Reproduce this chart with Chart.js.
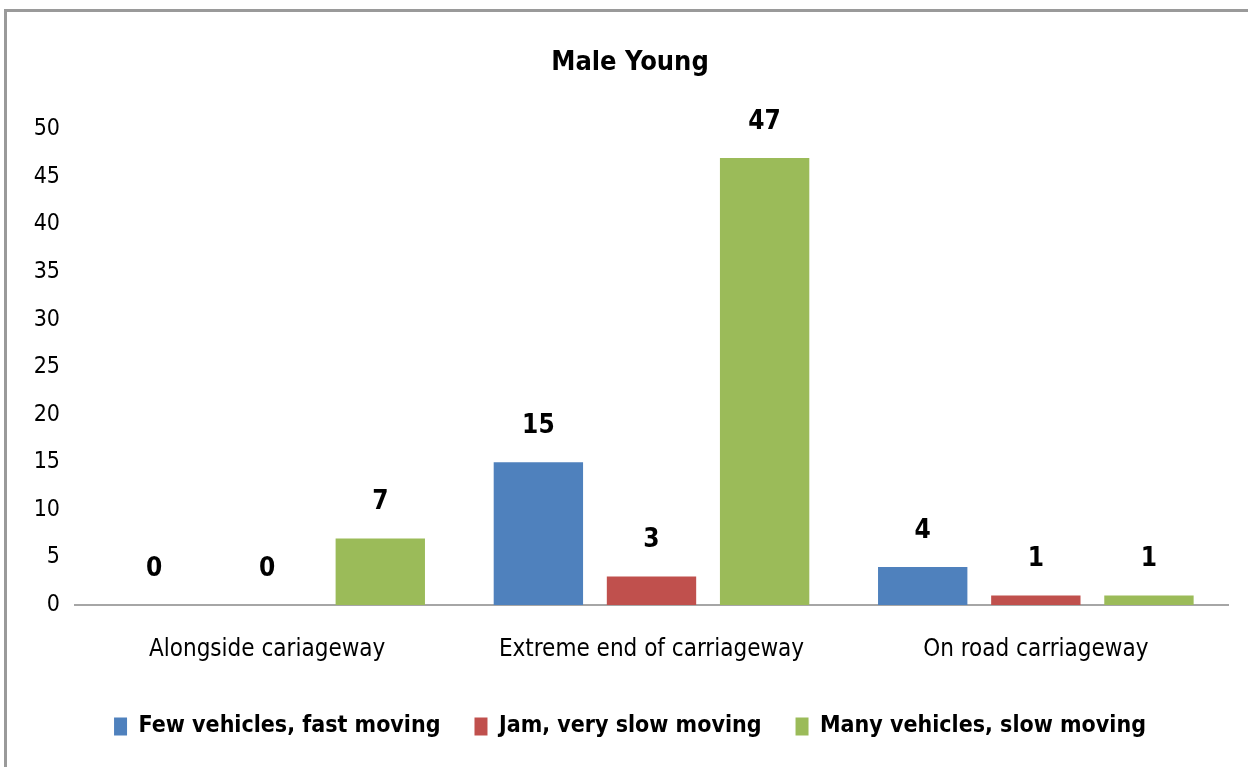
<!DOCTYPE html>
<html>
<head>
<meta charset="utf-8">
<script src="https://cdn.jsdelivr.net/npm/chart.js@4.4.0/dist/chart.umd.min.js"></script>
<style>
  html, body { margin: 0; padding: 0; background: #fff; }
  #frame {
    position: absolute; left: 4px; top: 9px; width: 1241px; height: 755px;
    border-top: 3px solid #9a9a9a; border-left: 3px solid #9a9a9a;
  }
  #frame canvas { display: block; }
</style>
</head>
<body>
<div id="frame"><canvas id="chart" width="1241" height="755"></canvas></div>
<script>
// chart data
const categories = ["Alongside cariageway", "Extreme end of carriageway", "On road carriageway"];
const fewVehicles = [0, 15, 4];
const jamSlow = [0, 3, 1];
const manySlow = [7, 47, 1];
const yTicks = [0, 5, 10, 15, 20, 25, 30, 35, 40, 45, 50];

const FONT = "'Liberation Sans Narrow', 'DejaVu Sans Condensed', 'Arial Narrow', sans-serif";

// draws the value above every bar
const valueLabels = {
    id: 'valueLabels',
    afterDatasetsDraw(chart) {
        const ctx = chart.ctx;
        ctx.save();
        ctx.font = "bold 26px " + FONT;
        ctx.fillStyle = '#000';
        ctx.textAlign = 'center';
        ctx.textBaseline = 'middle';
        chart.data.datasets.forEach((ds, i) => {
            chart.getDatasetMeta(i).data.forEach((bar, j) => {
                ctx.fillText(String(ds.data[j]), bar.x, bar.y - 36);
            });
        });
        ctx.restore();
    }
};

new Chart(document.getElementById('chart'), {
    type: 'bar',
    data: {
        labels: categories,
        datasets: [
            { label: 'Few vehicles, fast moving', data: fewVehicles, backgroundColor: '#4F81BD' },
            { label: 'Jam, very slow moving', data: jamSlow, backgroundColor: '#C0504D' },
            { label: 'Many vehicles, slow moving', data: manySlow, backgroundColor: '#9BBB59' }
        ]
    },
    options: {
        responsive: false,
        animation: false,
        categoryPercentage: 0.883,
        barPercentage: 0.79,
        layout: { padding: { left: 25, right: 20, top: 0, bottom: 19 } },
        scales: {
            x: {
                grid: { display: false, drawTicks: false },
                border: { display: true, color: '#a6a6a6', width: 2 },
                ticks: { font: { family: FONT, size: 24 }, color: '#000', padding: 30, maxRotation: 0 },
                afterFit(scale) { scale.height = 76; }
            },
            y: {
                min: 0,
                max: 50,
                grid: { display: false, drawTicks: false },
                border: { display: false },
                afterBuildTicks(scale) { scale.ticks = yTicks.map(v => ({ value: v })); },
                ticks: { font: { family: FONT, size: 23 }, color: '#000', padding: 15 },
                afterFit(scale) { scale.width = 43; }
            }
        },
        plugins: {
            title: {
                display: true,
                text: 'Male Young',
                color: '#000',
                font: { family: FONT, size: 27, weight: 'bold' },
                padding: { top: 35, bottom: 50 }
            },
            legend: {
                position: 'bottom',
                labels: {
                    color: '#000',
                    font: { family: FONT, size: 23, weight: 'bold' },
                    boxWidth: 13,
                    boxHeight: 18,
                    padding: 34
                }
            },
            tooltip: { enabled: false }
        }
    },
    plugins: [valueLabels]
});
</script>
</body>
</html>
